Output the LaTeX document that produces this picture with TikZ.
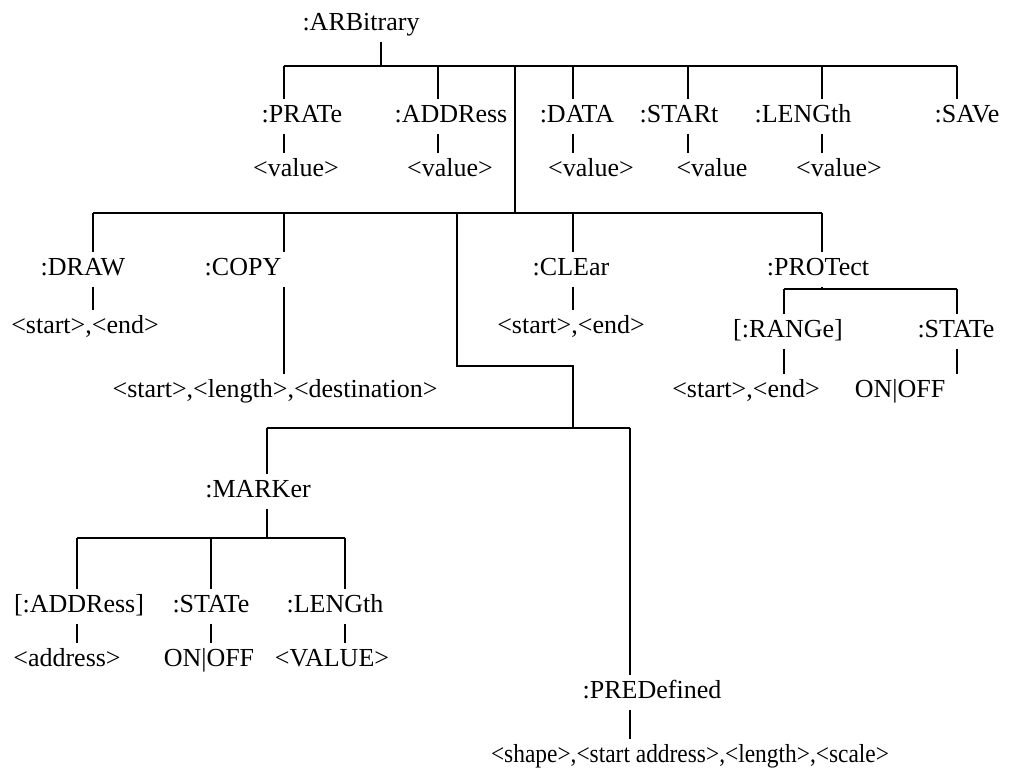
\documentclass[tikz,border=0pt]{standalone}
\usepackage{fontspec}
\setmainfont{Liberation Serif}
\usepackage{tikz}

\begin{document}
\begin{tikzpicture}[x=1pt,y=-1pt,
  lbl/.style={anchor=base, inner xsep=0pt, inner ysep=5pt, text height=18pt, text depth=6.5pt, font=\fontsize{26}{31}\selectfont},
  conn/.style={line width=1.8pt}]
\useasboundingbox (0,0) rectangle (1010,774);
\node[lbl] (arb) at (361,30) {:ARBitrary};
\node[lbl] (prate) at (302,122) {:PRATe};
\node[lbl] (addr) at (451,122) {:ADDRess};
\node[lbl] (data) at (577,122) {:DATA};
\node[lbl] (start) at (679,122) {:STARt};
\node[lbl] (length) at (803,122) {:LENGth};
\node[lbl] (save) at (967,122) {:SAVe};
\node[lbl] (pratev) at (296,176) {<value>};
\node[lbl] (addrv) at (450,176) {<value>};
\node[lbl] (datav) at (591,176) {<value>};
\node[lbl] (startv) at (712,176) {<value};
\node[lbl] (lengthv) at (839,176) {<value>};
\node[lbl] (draw) at (83,275) {:DRAW};
\node[lbl] (copy) at (243,275) {:COPY};
\node[lbl] (clear) at (571,275) {:CLEar};
\node[lbl] (protect) at (818,275) {:PROTect};
\node[lbl] (drawv) at (85,333) {<start>,<end>};
\node[lbl] (copyv) at (275,397) {<start>,<length>,<destination>};
\node[lbl] (clearv) at (571,333) {<start>,<end>};
\node[lbl] (range) at (788,337) {[:RANGe]};
\node[lbl] (pstate) at (956,337) {:STATe};
\node[lbl] (rangev) at (746,397) {<start>,<end>};
\node[lbl] (pstatev) at (900,397) {ON|OFF};
\node[lbl] (marker) at (258,497) {:MARKer};
\node[lbl] (maddr) at (79,612) {[:ADDRess]};
\node[lbl] (mstate) at (211,612) {:STATe};
\node[lbl] (mlength) at (335,612) {:LENGth};
\node[lbl] (maddrv) at (67,666) {<address>};
\node[lbl] (mstatev) at (209,666) {ON|OFF};
\node[lbl] (mlengthv) at (332,666) {<VALUE>};
\node[lbl] (predef) at (652,698) {:PREDefined};
\node[lbl] (predefv) at (690,762) {\scalebox{0.9}[1]{<shape>,<start address>,<length>,<scale>}};
\coordinate (j-arb) at (381,66);
\coordinate (j-prate) at (284,66);
\coordinate (j-addr) at (438,66);
\coordinate (j-mid) at (515,66);
\coordinate (j-data) at (573,66);
\coordinate (j-start) at (688,66);
\coordinate (j-length) at (822,66);
\coordinate (j-save) at (957,66);
\coordinate (k-draw) at (93,213);
\coordinate (k-copy) at (284,213);
\coordinate (k-mrk) at (457,213);
\coordinate (k-mid) at (515,213);
\coordinate (k-clear) at (573,213);
\coordinate (k-prot) at (822,213);
\coordinate (elbow) at (573,366);
\coordinate (l-mrk) at (267,428);
\coordinate (l-mid) at (573,428);
\coordinate (l-pre) at (630,428);
\coordinate (n-addr) at (77,538);
\coordinate (n-state) at (211,538);
\coordinate (n-mid) at (267,538);
\coordinate (n-len) at (345,538);
\coordinate (p-rng) at (784,289);
\coordinate (p-mid) at (822,289);
\coordinate (p-st) at (957,289);
\draw[conn] (j-arb |- arb.south) -- (j-arb);
\draw[conn] (j-prate) -- (j-save);
\draw[conn] (j-prate) -- (j-prate |- prate.north);
\draw[conn] (j-prate |- prate.south) -- (j-prate |- pratev.north);
\draw[conn] (j-addr) -- (j-addr |- addr.north);
\draw[conn] (j-addr |- addr.south) -- (j-addr |- addrv.north);
\draw[conn] (j-data) -- (j-data |- data.north);
\draw[conn] (j-data |- data.south) -- (j-data |- datav.north);
\draw[conn] (j-start) -- (j-start |- start.north);
\draw[conn] (j-start |- start.south) -- (j-start |- startv.north);
\draw[conn] (j-length) -- (j-length |- length.north);
\draw[conn] (j-length |- length.south) -- (j-length |- lengthv.north);
\draw[conn] (j-save) -- (j-save |- save.north);
\draw[conn] (j-mid) -- (k-mid);
\draw[conn] (k-draw) -- (k-prot);
\draw[conn] (k-draw) -- (k-draw |- draw.north);
\draw[conn] (k-draw |- draw.south) -- (k-draw |- drawv.north);
\draw[conn] (k-copy) -- (k-copy |- copy.north);
\draw[conn] (k-copy |- copy.south) -- (k-copy |- copyv.north);
\draw[conn] (k-clear) -- (k-clear |- clear.north);
\draw[conn] (k-clear |- clear.south) -- (k-clear |- clearv.north);
\draw[conn] (k-prot) -- (k-prot |- protect.north);
\draw[conn] (k-prot |- protect.south) -- (p-mid);
\draw[conn] (p-rng) -- (p-st);
\draw[conn] (p-rng) -- (p-rng |- range.north);
\draw[conn] (p-rng |- range.south) -- (p-rng |- rangev.north);
\draw[conn] (p-st) -- (p-st |- pstate.north);
\draw[conn] (p-st |- pstate.south) -- (p-st |- pstatev.north);
\draw[conn] (k-mrk) |- (elbow) -- (l-mid);
\draw[conn] (l-mrk) -- (l-pre);
\draw[conn] (l-mrk) -- (l-mrk |- marker.north);
\draw[conn] (l-mrk |- marker.south) -- (n-mid);
\draw[conn] (l-pre) -- (l-pre |- predef.north);
\draw[conn] (l-pre |- predef.south) -- (l-pre |- predefv.north);
\draw[conn] (n-addr) -- (n-len);
\draw[conn] (n-addr) -- (n-addr |- maddr.north);
\draw[conn] (n-addr |- maddr.south) -- (n-addr |- maddrv.north);
\draw[conn] (n-state) -- (n-state |- mstate.north);
\draw[conn] (n-state |- mstate.south) -- (n-state |- mstatev.north);
\draw[conn] (n-len) -- (n-len |- mlength.north);
\draw[conn] (n-len |- mlength.south) -- (n-len |- mlengthv.north);
\end{tikzpicture}
\end{document}
